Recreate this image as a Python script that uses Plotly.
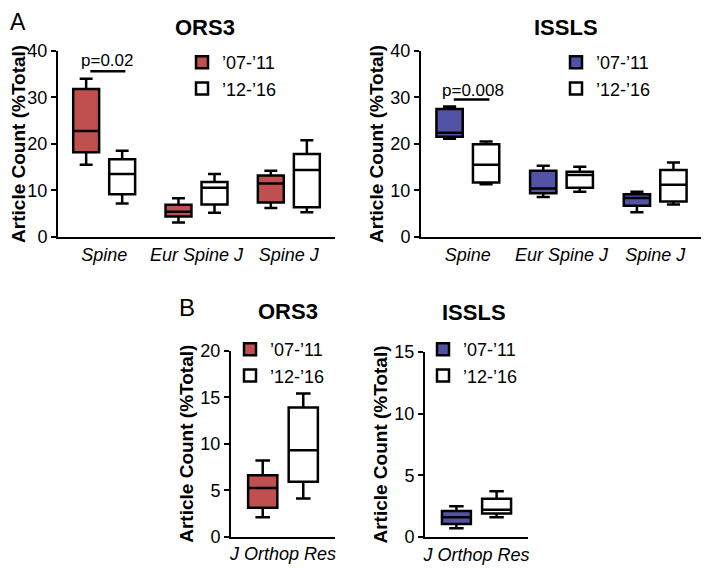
import plotly.graph_objects as go

W, H = 709, 568
OFF = 8  # browser body margin compensation (px)

# ---------------- data ----------------
journals_A = ["Spine", "Eur Spine J", "Spine J"]
journals_B = ["J Orthop Res"]
periods = ["’07-’11", "’12-’16"]

# ORS3, panel A
ors_A_early_lo = [15.5, 3.1, 6.2]
ors_A_early_q1 = [18.2, 4.4, 7.4]
ors_A_early_med = [22.75, 5.4, 11.5]
ors_A_early_q3 = [31.8, 6.9, 13.2]
ors_A_early_hi = [34.0, 8.3, 14.2]

ors_A_late_lo = [7.2, 5.2, 5.3]
ors_A_late_q1 = [9.2, 7.0, 6.4]
ors_A_late_med = [13.5, 10.6, 14.4]
ors_A_late_q3 = [16.7, 11.8, 17.8]
ors_A_late_hi = [18.5, 13.5, 20.75]

# ISSLS, panel A
iss_A_early_lo = [21.1, 8.6, 5.3]
iss_A_early_q1 = [21.5, 9.4, 6.7]
iss_A_early_med = [22.4, 10.4, 8.4]
iss_A_early_q3 = [27.5, 14.2, 9.2]
iss_A_early_hi = [28.0, 15.3, 9.7]

iss_A_late_lo = [11.3, 9.7, 7.0]
iss_A_late_q1 = [11.7, 10.6, 7.6]
iss_A_late_med = [15.5, 13.3, 11.2]
iss_A_late_q3 = [19.9, 14.0, 14.4]
iss_A_late_hi = [20.5, 15.1, 16.0]

# ORS3, panel B
ors_B_early_lo = [2.1]
ors_B_early_q1 = [3.1]
ors_B_early_med = [5.25]
ors_B_early_q3 = [6.6]
ors_B_early_hi = [8.2]

ors_B_late_lo = [4.1]
ors_B_late_q1 = [5.9]
ors_B_late_med = [9.3]
ors_B_late_q3 = [13.9]
ors_B_late_hi = [15.4]

# ISSLS, panel B
iss_B_early_lo = [0.7]
iss_B_early_q1 = [1.05]
iss_B_early_med = [1.6]
iss_B_early_q3 = [2.1]
iss_B_early_hi = [2.5]

iss_B_late_lo = [1.6]
iss_B_late_q1 = [1.9]
iss_B_late_med = [2.2]
iss_B_late_q3 = [3.1]
iss_B_late_hi = [3.7]

p_labels = ["p=0.02", "p=0.008"]
panel_titles = ["ORS3", "ISSLS", "ORS3", "ISSLS"]

# ---------------- style ----------------
RED = "#C0504F"
BLUE = "#5252A6"
WHITE = "#FFFFFF"
FONT = "Liberation Sans, Arial, sans-serif"


def px_x(p):
    return (p - OFF) / W


def px_y(p):
    return 1 - (p - OFF) / H


fig = go.Figure()


def add_box(name, cats, lo, q1, med, q3, hi, fill, xa, ya, legend, offset):
    fig.add_trace(go.Box(
        name=name, x=cats, lowerfence=lo, q1=q1, median=med, q3=q3, upperfence=hi,
        fillcolor=fill, line=dict(color="black", width=2.5), whiskerwidth=0.5,
        xaxis=xa, yaxis=ya, legend=legend, offsetgroup=offset, hoverinfo="skip",
    ))


add_box(periods[0], journals_A, ors_A_early_lo, ors_A_early_q1, ors_A_early_med, ors_A_early_q3, ors_A_early_hi, RED, "x", "y", "legend", "a")
add_box(periods[1], journals_A, ors_A_late_lo, ors_A_late_q1, ors_A_late_med, ors_A_late_q3, ors_A_late_hi, WHITE, "x", "y", "legend", "b")
add_box(periods[0], journals_A, iss_A_early_lo, iss_A_early_q1, iss_A_early_med, iss_A_early_q3, iss_A_early_hi, BLUE, "x2", "y2", "legend2", "a")
add_box(periods[1], journals_A, iss_A_late_lo, iss_A_late_q1, iss_A_late_med, iss_A_late_q3, iss_A_late_hi, WHITE, "x2", "y2", "legend2", "b")
add_box(periods[0], journals_B, ors_B_early_lo, ors_B_early_q1, ors_B_early_med, ors_B_early_q3, ors_B_early_hi, RED, "x3", "y3", "legend3", "a")
add_box(periods[1], journals_B, ors_B_late_lo, ors_B_late_q1, ors_B_late_med, ors_B_late_q3, ors_B_late_hi, WHITE, "x3", "y3", "legend3", "b")
add_box(periods[0], journals_B, iss_B_early_lo, iss_B_early_q1, iss_B_early_med, iss_B_early_q3, iss_B_early_hi, BLUE, "x4", "y4", "legend4", "a")
add_box(periods[1], journals_B, iss_B_late_lo, iss_B_late_q1, iss_B_late_med, iss_B_late_q3, iss_B_late_hi, WHITE, "x4", "y4", "legend4", "b")

# panel geometry (pixels in the reference picture)
panels = {
    "1": dict(x=(58, 335), y=(50.7, 237), rng=[0, 40], dt=10),
    "2": dict(x=(421, 702), y=(50.7, 237), rng=[0, 40], dt=10),
    "3": dict(x=(231, 335), y=(350.7, 536.7), rng=[0, 20], dt=5),
    "4": dict(x=(425, 528), y=(352, 537), rng=[0, 15], dt=5),
}

axis_common = dict(showline=True, linewidth=2, linecolor="black", showgrid=False,
                   zeroline=False, mirror=False)

layout_axes = {}
for key, p in panels.items():
    xname = "xaxis" if key == "1" else f"xaxis{key}"
    yname = "yaxis" if key == "1" else f"yaxis{key}"
    anchor_x = "x" if key == "1" else f"x{key}"
    anchor_y = "y" if key == "1" else f"y{key}"
    layout_axes[xname] = dict(
        axis_common, domain=[px_x(p["x"][0]), px_x(p["x"][1])], anchor=anchor_y,
        ticks="", tickfont=dict(family=FONT, size=18, color="black", style="italic"),
        fixedrange=True,
    )
    layout_axes[yname] = dict(
        axis_common, domain=[px_y(p["y"][1]), px_y(p["y"][0])], anchor=anchor_x,
        range=p["rng"], dtick=p["dt"], tick0=0, ticks="outside", ticklen=5, tickwidth=2,
        tickcolor="black", tickfont=dict(family=FONT, size=18, color="black"),
        title=dict(text="<b>Article Count (%Total)</b>", font=dict(family=FONT, size=19, color="black"), standoff=2),
        fixedrange=True,
    )

legend_common = dict(font=dict(family=FONT, size=18, color="black"), bgcolor="rgba(0,0,0,0)",
                     xanchor="left", yanchor="top", tracegroupgap=0, itemclick=False,
                     itemdoubleclick=False)
legends = {
    "legend": dict(legend_common, x=px_x(182), y=px_y(44)),
    "legend2": dict(legend_common, x=px_x(556), y=px_y(44)),
    "legend3": dict(legend_common, x=px_x(230), y=px_y(331)),
    "legend4": dict(legend_common, x=px_x(423), y=px_y(331)),
}

annotations = []
title_pos = [(205, 28), (566, 28), (288, 311), (474, 312)]
for t, (cx, cy) in zip(panel_titles, title_pos):
    annotations.append(dict(text=f"<b>{t}</b>", x=px_x(cx), y=px_y(cy), xref="paper", yref="paper",
                            showarrow=False, font=dict(family=FONT, size=22, color="black"),
                            xanchor="center", yanchor="middle"))
# panel letters
annotations.append(dict(text="A", x=px_x(18), y=1, xref="paper", yref="paper", showarrow=False,
                        font=dict(family=FONT, size=23, color="black"), borderpad=0,
                        xanchor="center", yanchor="top"))
annotations.append(dict(text="B", x=px_x(187), y=px_y(307), xref="paper", yref="paper", showarrow=False,
                        font=dict(family=FONT, size=24, color="black"),
                        xanchor="center", yanchor="middle"))

# significance bars
annotations.append(dict(text=p_labels[0], x=0.03, y=37.8, xref="x", yref="y", showarrow=False,
                        font=dict(family=FONT, size=17, color="black")))
annotations.append(dict(text=p_labels[1], x=0.05, y=31.4, xref="x2", yref="y2", showarrow=False,
                        font=dict(family=FONT, size=17, color="black")))
shapes = [
    dict(type="line", xref="x", yref="y", x0=-0.15, x1=0.23, y0=35.6, y1=35.6,
         line=dict(color="black", width=2.5)),
    dict(type="line", xref="x2", yref="y2", x0=-0.15, x1=0.23, y0=29.5, y1=29.5,
         line=dict(color="black", width=2.5)),
]

fig.update_layout(
    width=W, height=H, margin=dict(l=0, r=0, t=0, b=0, autoexpand=False),
    paper_bgcolor="white", plot_bgcolor="white",
    boxmode="group", boxgap=0.22, boxgroupgap=0.28,
    annotations=annotations, shapes=shapes,
    font=dict(family=FONT, color="black"),
    **layout_axes, **legends,
)

fig.write_html("out.html")
